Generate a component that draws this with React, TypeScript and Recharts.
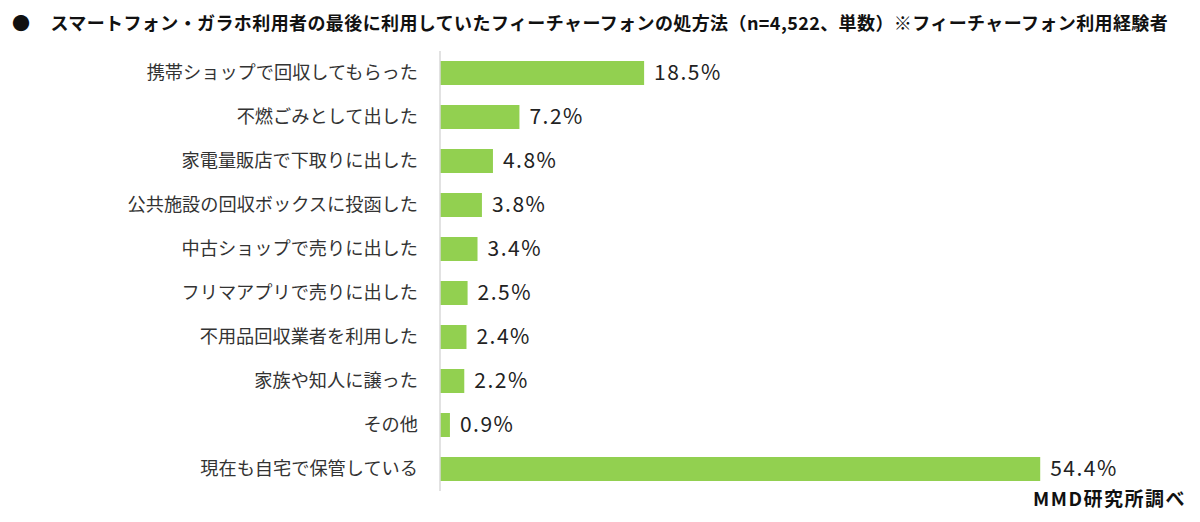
import { Bar, BarChart, LabelList, XAxis, YAxis } from "recharts";

const categories = [
  "携帯ショップで回収してもらった",
  "不燃ごみとして出した",
  "家電量販店で下取りに出した",
  "公共施設の回収ボックスに投函した",
  "中古ショップで売りに出した",
  "フリマアプリで売りに出した",
  "不用品回収業者を利用した",
  "家族や知人に譲った",
  "その他",
  "現在も自宅で保管している",
];

const shares = [18.5, 7.2, 4.8, 3.8, 3.4, 2.5, 2.4, 2.2, 0.9, 54.4];

const title =
  "スマートフォン・ガラホ利用者の最後に利用していたフィーチャーフォンの処方法（n=4,522、単数）※フィーチャーフォン利用経験者";
const source = "MMD研究所調べ";

const font = '"Noto Sans CJK JP", "Noto Sans", sans-serif';

export default function App() {
  const chartData = categories.map((name, i) => ({ name, value: shares[i] }));

  return (
    <div style={{ position: "absolute", left: 0, top: 0, width: 1200, height: 522, background: "#fff", fontFamily: font }}>
      <div
        style={{
          position: "absolute",
          left: 12,
          top: 10,
          fontSize: 18,
          fontWeight: 700,
          color: "#111",
          whiteSpace: "nowrap",
          lineHeight: "24px",
          letterSpacing: 0.4,
        }}
      >
        <span style={{ marginRight: 20 }}>●</span>
        {title}
      </div>
      <BarChart
        width={1200}
        height={522}
        data={chartData}
        layout="vertical"
        margin={{ top: 51, right: 98, left: 0, bottom: 31 }}
        barCategoryGap={20}
      >
        <XAxis type="number" domain={[0, 60]} hide />
        <YAxis
          type="category"
          dataKey="name"
          width={440}
          tickLine={false}
          tickSize={0}
          tickMargin={22}
          axisLine={{ stroke: "#d9d9d9", strokeWidth: 1.5 }}
          tick={{ fill: "#333", fontSize: 18.2, fontFamily: font }}
          interval={0}
        />
        <Bar dataKey="value" fill="#92d050" barSize={24} isAnimationActive={false}>
          <LabelList
            dataKey="value"
            position="right"
            offset={10}
            formatter={(v: any) => `${Number(v).toFixed(1)}%`}
            style={{ fill: "#222", fontSize: 21, fontFamily: font, letterSpacing: 1.5 }}
          />
        </Bar>
      </BarChart>
      <div
        style={{
          position: "absolute",
          right: 14,
          top: 486,
          fontSize: 19,
          lineHeight: "24px",
          fontWeight: 700,
          color: "#111",
          whiteSpace: "nowrap",
          letterSpacing: 1.5,
        }}
      >
        {source}
      </div>
    </div>
  );
}
